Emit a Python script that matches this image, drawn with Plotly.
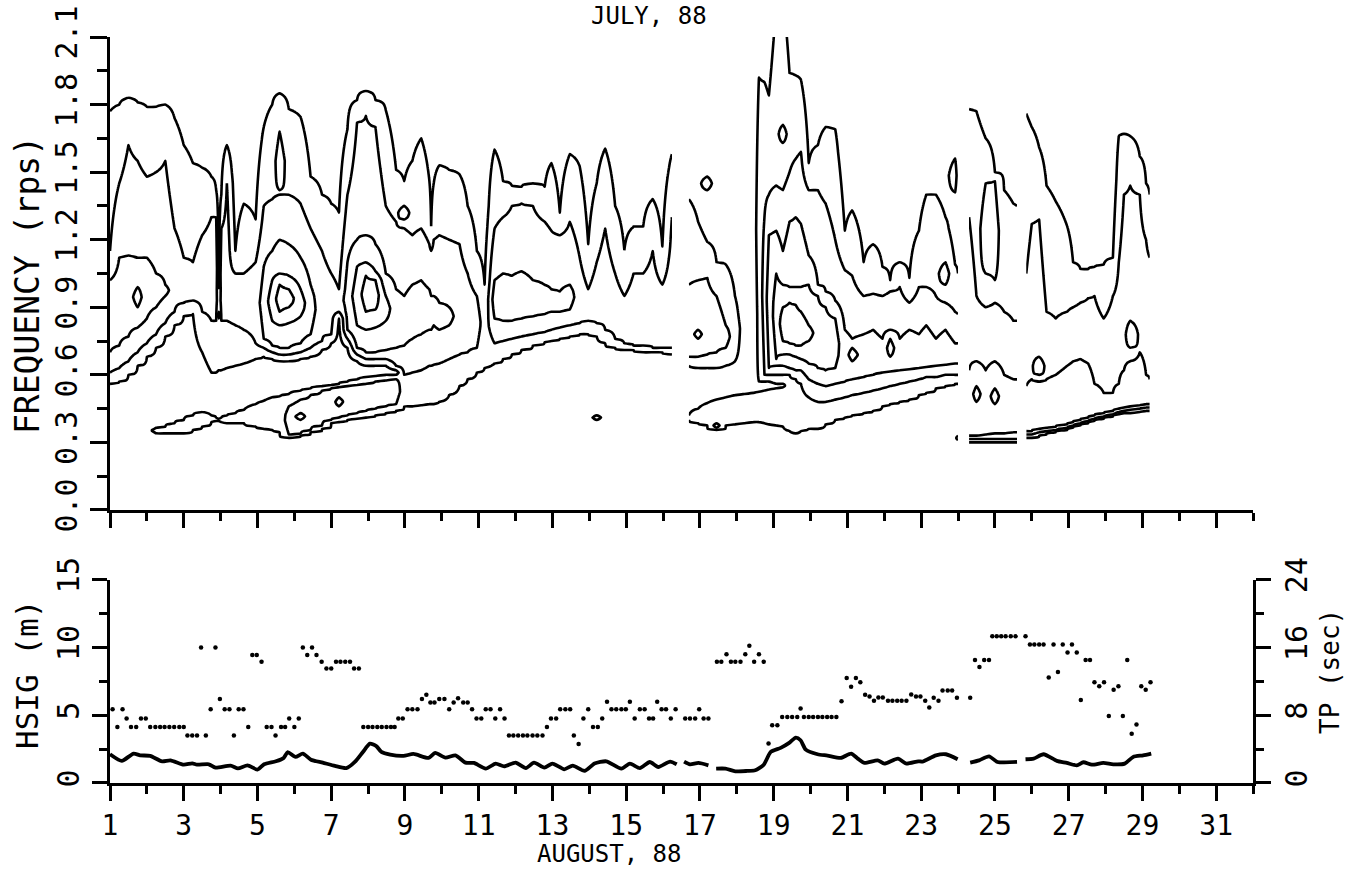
import numpy as np
import plotly.graph_objects as go

# ---------------- top panel: spectral contour bands (lo, hi frequency, rps) read per time ----------------
T_A = [1.0, 1.25, 1.5, 1.75, 2.0, 2.25, 2.5, 2.75, 3.0, 3.25, 3.5, 3.75, 3.88, 3.95, 4.02,
       4.17, 4.4, 4.63, 4.95, 5.17, 5.4, 5.6, 5.85, 6.17, 6.44, 6.75, 7.0, 7.21, 7.44, 7.7,
       7.94, 8.2, 8.48, 8.76, 8.98, 9.2, 9.44, 9.66, 9.71, 9.78, 9.93, 10.2, 10.48, 10.7, 10.95,
       11.16, 11.43, 11.66, 11.9, 12.16, 12.47, 12.79, 12.97, 13.2, 13.47, 13.74, 13.97, 14.2,
       14.43, 14.7, 14.95, 15.2, 15.46, 15.72, 15.98, 16.24]
L1_A = {1.0: (0.56, 1.77), 1.25: (0.57, 1.80), 1.5: (0.60, 1.83), 1.75: (0.64, 1.81), 2.0: (0.68, 1.79),
        2.25: (0.72, 1.79), 2.5: (0.77, 1.80), 2.75: (0.82, 1.74), 3.0: (0.86, 1.62), 3.25: (0.87, 1.54),
        3.5: (0.70, 1.52), 3.75: (0.61, 1.48), 3.88: (0.61, 1.42), 3.95: (0.62, 0.85), 4.02: (0.62, 1.40),
        4.17: (0.63, 1.62), 4.4: (0.64, 1.15), 4.63: (0.65, 1.36), 4.95: (0.67, 1.29), 5.17: (0.68, 1.70),
        5.4: (0.67, 1.80), 5.6: (0.66, 1.85), 5.85: (0.66, 1.78), 6.17: (0.67, 1.745), 6.44: (0.68, 1.48),
        6.75: (0.71, 1.40), 7.0: (0.74, 1.36), 7.21: (0.85, 1.32), 7.44: (0.72, 1.69), 7.7: (0.66, 1.82),
        7.94: (0.64, 1.86), 8.2: (0.64, 1.82), 8.48: (0.64, 1.775), 8.76: (0.62, 1.51), 8.98: (0.46, 1.46),
        9.2: (0.46, 1.55), 9.44: (0.465, 1.65), 9.66: (0.47, 1.465), 9.71: (0.47, 1.26), 9.78: (0.47, 1.45),
        9.93: (0.48, 1.53), 10.2: (0.51, 1.51), 10.48: (0.55, 1.49), 10.7: (0.58, 1.35), 10.95: (0.61, 1.15),
        11.16: (0.63, 1.00), 11.43: (0.65, 1.60), 11.66: (0.67, 1.46), 11.9: (0.69, 1.44), 12.16: (0.71, 1.435),
        12.47: (0.73, 1.45), 12.79: (0.745, 1.435), 12.97: (0.75, 1.54), 13.2: (0.76, 1.32), 13.47: (0.77, 1.58),
        13.74: (0.78, 1.525), 13.97: (0.78, 1.18), 14.2: (0.77, 1.45), 14.43: (0.74, 1.605), 14.7: (0.72, 1.35),
        14.95: (0.71, 1.154), 15.2: (0.71, 1.257), 15.46: (0.70, 1.257), 15.72: (0.70, 1.38), 15.98: (0.70, 1.17),
        16.24: (0.69, 1.58)}
L2_A = {1.0: (0.61, 1.15), 1.25: (0.63, 1.45), 1.5: (0.66, 1.62), 1.75: (0.70, 1.55), 2.0: (0.74, 1.48),
        2.25: (0.78, 1.50), 2.5: (0.83, 1.55), 2.75: (0.88, 1.25), 3.0: (0.92, 1.12), 3.25: (0.93, 1.10),
        3.5: (0.88, 1.22), 3.75: (0.84, 1.30), 3.88: (0.84, 1.30), 4.02: (0.84, 1.25), 4.17: (0.84, 1.45),
        4.4: (0.82, 1.05), 4.63: (0.80, 1.05), 4.95: (0.74, 1.10), 5.17: (0.72, 1.35), 5.4: (0.70, 1.38),
        5.6: (0.69, 1.40), 5.85: (0.69, 1.40), 6.17: (0.70, 1.36), 6.44: (0.72, 1.25), 6.75: (0.75, 1.15),
        7.0: (0.78, 1.05), 7.21: (0.88, 0.98), 7.44: (0.76, 1.40), 7.7: (0.69, 1.72), 7.94: (0.67, 1.75),
        8.2: (0.67, 1.70), 8.48: (0.67, 1.35), 8.76: (0.64, 1.28), 8.98: (0.60, 1.25), 9.2: (0.61, 1.22),
        9.44: (0.62, 1.25), 9.66: (0.64, 1.18), 9.71: (0.64, 1.15), 9.78: (0.645, 1.20), 9.93: (0.65, 1.22),
        10.2: (0.67, 1.20), 10.48: (0.69, 1.18), 10.7: (0.70, 1.05), 10.95: (0.72, 0.95), 11.43: (0.74, 1.25),
        11.66: (0.75, 1.30), 11.9: (0.76, 1.35), 12.16: (0.77, 1.36), 12.47: (0.78, 1.35), 12.79: (0.79, 1.28),
        12.97: (0.80, 1.24), 13.2: (0.81, 1.22), 13.47: (0.82, 1.28), 13.74: (0.83, 1.12), 13.97: (0.84, 0.98),
        14.2: (0.83, 1.10), 14.43: (0.80, 1.25), 14.7: (0.76, 1.05), 14.95: (0.74, 0.95), 15.2: (0.73, 1.05),
        15.46: (0.73, 1.05), 15.72: (0.72, 1.15), 15.98: (0.72, 1.00), 16.24: (0.72, 1.30)}
L3_A = {1.0: (0.70, 1.02), 1.25: (0.73, 1.12), 1.5: (0.77, 1.13), 1.75: (0.81, 1.12), 2.0: (0.85, 1.12),
        2.25: (0.90, 1.05), 2.5: (0.95, 1.00), 5.17: (0.76, 1.08), 5.4: (0.73, 1.15), 5.6: (0.72, 1.20),
        5.85: (0.72, 1.18), 6.17: (0.74, 1.12), 6.44: (0.78, 1.00), 7.44: (0.80, 1.10), 7.7: (0.72, 1.20),
        7.94: (0.70, 1.22), 8.2: (0.70, 1.18), 8.48: (0.71, 1.05), 8.76: (0.72, 0.98), 8.98: (0.73, 0.95),
        9.2: (0.76, 1.00), 9.44: (0.78, 1.02), 9.66: (0.80, 0.98), 9.71: (0.80, 0.95), 9.78: (0.82, 0.95),
        9.93: (0.80, 0.92), 10.2: (0.82, 0.90), 11.43: (0.85, 1.02), 11.66: (0.84, 1.05), 11.9: (0.84, 1.04),
        12.16: (0.85, 1.06), 12.47: (0.86, 1.02), 12.79: (0.87, 1.00), 12.97: (0.88, 0.98), 13.2: (0.88, 0.97),
        13.47: (0.89, 1.00)}
L4_A = {5.4: (0.84, 1.02), 5.6: (0.82, 1.05), 5.85: (0.83, 1.04), 6.17: (0.86, 0.98),
        7.7: (0.82, 1.08), 7.94: (0.80, 1.10), 8.2: (0.81, 1.06), 8.48: (0.84, 0.95)}
L5_A = {5.6: (0.88, 1.00), 5.85: (0.90, 0.98), 7.94: (0.88, 1.04), 8.2: (0.89, 1.02)}
S1_A = {2.25: (0.343, 0.362), 2.5: (0.34, 0.37), 2.75: (0.34, 0.385), 3.0: (0.34, 0.40), 3.25: (0.355, 0.42),
        3.5: (0.37, 0.435), 3.75: (0.39, 0.42), 3.88: (0.395, 0.41), 3.95: (0.395, 0.405), 4.02: (0.39, 0.41),
        4.17: (0.385, 0.42), 4.4: (0.385, 0.43), 4.63: (0.385, 0.445), 4.95: (0.37, 0.47), 5.17: (0.36, 0.485),
        5.4: (0.355, 0.50), 5.6: (0.345, 0.505), 5.85: (0.32, 0.515), 6.17: (0.33, 0.53), 6.44: (0.345, 0.54),
        6.75: (0.36, 0.55), 7.0: (0.385, 0.555), 7.21: (0.39, 0.56), 7.44: (0.40, 0.57), 7.7: (0.405, 0.58),
        7.94: (0.41, 0.59), 8.2: (0.42, 0.595), 8.48: (0.43, 0.60), 8.76: (0.44, 0.60)}
S2_A = {5.85: (0.335, 0.46), 6.17: (0.34, 0.49), 6.44: (0.355, 0.51), 6.75: (0.375, 0.53), 7.0: (0.40, 0.54),
        7.21: (0.41, 0.545), 7.44: (0.42, 0.55), 7.7: (0.43, 0.555), 7.94: (0.44, 0.56), 8.2: (0.45, 0.57),
        8.48: (0.46, 0.575), 8.76: (0.47, 0.58)}
X_A = {1.75: (0.90, 0.99), 3.95: (0.88, 0.98), 5.6: (1.42, 1.68), 6.17: (0.40, 0.43),
       7.21: (0.46, 0.50), 8.98: (1.29, 1.35), 14.2: (0.40, 0.42)}

T_B = [16.7, 16.95, 17.2, 17.45, 17.7, 17.95, 18.2, 18.45, 18.6, 18.75, 18.87, 19.07, 19.25, 19.43,
       19.6, 19.74, 19.95, 20.2, 20.41, 20.67, 20.93, 21.13, 21.44, 21.7, 21.95, 22.16, 22.42, 22.68,
       22.94, 23.14, 23.4, 23.66, 23.92, 24.0]
L1_B = {16.7: (0.64, 1.38), 16.95: (0.63, 1.28), 17.2: (0.63, 1.19), 17.45: (0.63, 1.10), 17.7: (0.64, 1.09),
        17.95: (0.66, 0.95), 18.6: (0.57, 1.92), 18.75: (0.57, 1.90), 18.87: (0.57, 1.84), 19.07: (0.56, 2.25),
        19.25: (0.56, 2.30), 19.43: (0.35, 1.94), 19.6: (0.34, 1.93), 19.74: (0.35, 1.91), 19.95: (0.36, 1.54),
        20.2: (0.36, 1.62), 20.41: (0.38, 1.70), 20.67: (0.40, 1.69), 20.93: (0.41, 1.24), 21.13: (0.42, 1.33),
        21.44: (0.43, 1.10), 21.7: (0.44, 1.18), 21.95: (0.46, 1.08), 22.16: (0.47, 1.02), 22.42: (0.48, 1.10),
        22.68: (0.49, 1.03), 22.94: (0.51, 1.24), 23.14: (0.52, 1.40), 23.4: (0.54, 1.40), 23.66: (0.55, 1.30),
        23.92: (0.56, 1.09), 24.0: (0.56, 1.05)}
L2_B = {16.7: (0.68, 1.00), 16.95: (0.68, 1.02), 17.2: (0.69, 1.03), 17.45: (0.70, 0.95), 17.7: (0.72, 0.82),
        18.75: (0.60, 1.30), 18.87: (0.60, 1.40), 19.07: (0.60, 1.44), 19.25: (0.60, 1.42), 19.43: (0.60, 1.50),
        19.6: (0.58, 1.56), 19.74: (0.56, 1.59), 19.95: (0.50, 1.42), 20.2: (0.48, 1.42), 20.41: (0.48, 1.36),
        20.67: (0.49, 1.20), 20.93: (0.50, 1.065), 21.13: (0.51, 1.04), 21.44: (0.52, 0.95), 21.7: (0.53, 0.96),
        21.95: (0.54, 0.95), 22.16: (0.55, 0.97), 22.42: (0.56, 0.99), 22.68: (0.57, 0.92), 22.94: (0.58, 0.99),
        23.14: (0.59, 0.99), 23.4: (0.59, 0.95), 23.66: (0.60, 0.92), 23.92: (0.60, 0.88), 24.0: (0.60, 0.87)}
L3_B = {18.87: (0.63, 1.22), 19.07: (0.64, 1.24), 19.25: (0.64, 1.15), 19.43: (0.63, 1.28), 19.6: (0.62, 1.30),
        19.74: (0.62, 1.27), 19.95: (0.58, 1.13), 20.2: (0.56, 1.00), 20.41: (0.55, 0.97), 20.67: (0.56, 0.93),
        20.93: (0.57, 0.80), 21.13: (0.58, 0.76), 21.44: (0.59, 0.78), 21.7: (0.60, 0.80), 21.95: (0.61, 0.76),
        22.16: (0.615, 0.80), 22.42: (0.62, 0.76), 22.68: (0.625, 0.80), 22.94: (0.63, 0.78), 23.14: (0.635, 0.82),
        23.4: (0.64, 0.76), 23.66: (0.645, 0.80), 23.92: (0.65, 0.74), 24.0: (0.65, 0.74)}
L4_B = {19.07: (0.67, 1.05), 19.25: (0.69, 1.00), 19.43: (0.69, 0.99), 19.6: (0.68, 0.99), 19.74: (0.67, 0.99),
        19.95: (0.65, 1.00), 20.2: (0.63, 0.95), 20.41: (0.62, 0.90), 20.67: (0.63, 0.85)}
L5_B = {19.25: (0.75, 0.90), 19.43: (0.74, 0.92), 19.6: (0.73, 0.91), 19.74: (0.73, 0.88), 19.95: (0.75, 0.82)}
S1_B = {16.7: (0.40, 0.42), 16.95: (0.385, 0.45), 17.2: (0.375, 0.475), 17.45: (0.355, 0.49), 17.7: (0.375, 0.50),
        17.95: (0.38, 0.51), 18.2: (0.385, 0.515), 18.45: (0.39, 0.52), 18.6: (0.39, 0.525), 18.75: (0.385, 0.53),
        18.87: (0.38, 0.535), 19.07: (0.375, 0.54), 19.25: (0.37, 0.545)}
X_B = {16.95: (0.76, 0.80), 17.2: (1.42, 1.48), 17.45: (0.365, 0.385), 19.25: (1.63, 1.71),
       21.13: (0.66, 0.72), 22.16: (0.68, 0.76), 23.66: (1.00, 1.10), 23.92: (1.41, 1.56), 24.0: (0.31, 0.33)}

T_C = [24.3, 24.5, 24.75, 25.0, 25.25, 25.5, 25.6]
L1_C = {24.3: (0.30, 1.78), 24.5: (0.30, 1.77), 24.75: (0.30, 1.65), 25.0: (0.30, 1.50), 25.25: (0.30, 1.42),
        25.5: (0.30, 1.36), 25.6: (0.30, 1.35)}
L2_C = {24.3: (0.315, 1.30), 24.5: (0.315, 0.95), 24.75: (0.315, 0.90), 25.0: (0.315, 0.92), 25.25: (0.315, 0.88),
        25.5: (0.315, 0.84), 25.6: (0.315, 0.84)}
L3_C = {24.3: (0.33, 0.62), 24.5: (0.33, 0.66), 24.75: (0.335, 0.62), 25.0: (0.34, 0.66), 25.25: (0.34, 0.60),
        25.5: (0.345, 0.58), 25.6: (0.345, 0.58)}
L4_C = {24.5: (0.48, 0.55), 25.0: (0.47, 0.54)}
X_C = {24.75: (1.05, 1.45), 25.0: (1.02, 1.46)}

T_D = [25.85, 26.0, 26.2, 26.4, 26.65, 26.96, 27.12, 27.32, 27.53, 27.7, 27.95, 28.2, 28.36, 28.5,
       28.67, 28.93, 29.1, 29.2]
L1_D = {25.85: (0.32, 1.76), 26.0: (0.32, 1.70), 26.2: (0.33, 1.61), 26.4: (0.34, 1.44), 26.65: (0.35, 1.37),
        26.96: (0.36, 1.26), 27.12: (0.37, 1.10), 27.32: (0.38, 1.07), 27.53: (0.39, 1.07), 27.7: (0.40, 1.08),
        27.95: (0.41, 1.09), 28.2: (0.42, 1.12), 28.36: (0.425, 1.66), 28.5: (0.43, 1.67), 28.67: (0.43, 1.66),
        28.93: (0.435, 1.57), 29.1: (0.44, 1.45), 29.2: (0.44, 1.40)}
L2_D = {25.85: (0.335, 1.05), 26.0: (0.335, 1.27), 26.2: (0.345, 1.29), 26.4: (0.35, 0.88), 26.65: (0.355, 0.85),
        26.96: (0.365, 0.88), 27.12: (0.375, 0.90), 27.32: (0.385, 0.92), 27.53: (0.395, 0.94), 27.7: (0.405, 0.95),
        27.95: (0.415, 0.85), 28.2: (0.425, 0.95), 28.36: (0.435, 1.10), 28.5: (0.44, 1.40), 28.67: (0.445, 1.44),
        28.93: (0.45, 1.40), 29.1: (0.455, 1.20), 29.2: (0.455, 1.12)}
L3_D = {25.85: (0.35, 0.55), 26.0: (0.35, 0.58), 26.2: (0.36, 0.57), 26.4: (0.365, 0.58), 26.65: (0.37, 0.60),
        26.96: (0.38, 0.64), 27.12: (0.39, 0.66), 27.32: (0.40, 0.67), 27.53: (0.41, 0.65), 27.7: (0.42, 0.56),
        27.95: (0.43, 0.52), 28.2: (0.44, 0.52), 28.36: (0.45, 0.56), 28.5: (0.455, 0.62), 28.67: (0.46, 0.66),
        28.93: (0.465, 0.70), 29.1: (0.47, 0.60), 29.2: (0.47, 0.58)}
X_D = {26.2: (0.60, 0.68), 28.67: (0.72, 0.84)}

# ---------------- bottom panel ----------------
HSIG_DAY = [1.0, 1.32, 1.64, 1.82, 2.09, 2.41, 2.64, 3.0, 3.23, 3.36, 3.68, 3.86, 4.27, 4.47, 4.73, 5.0,
            5.18, 5.5, 5.71, 5.82, 6.03, 6.23, 6.45, 6.77, 7.1, 7.41, 7.64, 7.86, 8.05, 8.23, 8.36, 8.6,
            8.96, 9.23, 9.64, 9.82, 10.1, 10.37, 10.64, 10.87, 11.19, 11.46, 11.69, 12.0, 12.28, 12.5,
            12.78, 13.0, 13.32, 13.55, 13.87, 14.14, 14.46, 14.87, 15.1, 15.37, 15.64, 15.87, 16.19, 16.37,
            None,
            16.57, 16.73, 16.96, 17.23,
            None,
            17.44, 17.69, 17.96, 18.28, 18.5, 18.73, 18.92, 19.19, 19.42, 19.6, 19.73, 19.87, 20.19, 20.46,
            20.82, 21.1, 21.28, 21.46, 21.82, 22.0, 22.37, 22.6, 22.92, 23.04, 23.4, 23.67, 23.99,
            None,
            24.33, 24.57, 24.84, 25.07, 25.6,
            None,
            25.83, 26.05, 26.32, 26.68, 26.95, 27.22, 27.4, 27.63, 27.94, 28.21, 28.52, 28.75, 29.02, 29.24]
HSIG_M = [2.12, 1.63, 2.17, 2.04, 2.0, 1.6, 1.67, 1.35, 1.45, 1.35, 1.38, 1.13, 1.28, 1.08, 1.3, 0.99,
          1.38, 1.6, 1.85, 2.27, 1.92, 2.17, 1.72, 1.5, 1.26, 1.1, 1.55, 2.29, 2.9, 2.7, 2.29, 2.09,
          2.0, 2.14, 1.85, 2.22, 1.87, 2.04, 1.5, 1.48, 1.06, 1.43, 1.23, 1.5, 1.1, 1.5,
          1.13, 1.43, 1.01, 1.28, 0.89, 1.43, 1.6, 1.06, 1.43, 1.1, 1.55, 1.18, 1.58, 1.38,
          None,
          1.58, 1.38, 1.48, 1.3,
          None,
          1.06, 1.06, 0.86, 0.89, 0.94, 1.35, 2.29, 2.59, 2.96, 3.35, 3.15, 2.46, 2.12, 2.02,
          1.85, 2.17, 1.8, 1.48, 1.67, 1.43, 1.8, 1.43, 1.6, 1.58, 2.04, 2.12, 1.75,
          None,
          1.5, 1.67, 1.97, 1.55, 1.55,
          None,
          1.75, 1.8, 2.12, 1.63, 1.48, 1.3, 1.53, 1.35, 1.48, 1.38, 1.43, 1.92, 2.04, 2.17]

TP_DAY = [1.07, 1.2, 1.34, 1.45, 1.57, 1.71, 1.84, 1.97, 2.09, 2.23, 2.36, 2.48, 2.61, 2.74, 2.88, 3.0,
          3.1, 3.23, 3.36, 3.47, 3.6, 3.73, 3.86, 3.98, 4.11, 4.24, 4.36, 4.49, 4.62, 4.75, 4.86, 4.98,
          5.11, 5.25, 5.38, 5.49, 5.64, 5.75, 5.86, 6.0, 6.12, 6.23, 6.35, 6.48, 6.6, 6.74, 6.87, 7.0,
          7.13, 7.25, 7.38, 7.51, 7.62, 7.75, 7.87, 8.0, 8.12, 8.25, 8.37, 8.5, 8.62, 8.72, 8.82, 8.94,
          9.07, 9.2, 9.34, 9.46, 9.58, 9.69, 9.8, 9.93, 10.07, 10.2, 10.32, 10.44, 10.58, 10.7, 10.82,
          10.94, 11.07, 11.19, 11.32, 11.45, 11.58, 11.7, 11.82, 11.94, 12.07, 12.2, 12.32, 12.46, 12.59,
          12.73, 12.85, 12.96, 13.1, 13.21, 13.35, 13.48, 13.58, 13.71, 13.84, 13.97, 14.1, 14.23, 14.35,
          14.48, 14.6, 14.73, 14.87, 14.99, 15.1, 15.23, 15.37, 15.5, 15.62, 15.73, 15.84, 15.96, 16.08,
          16.21, 16.34, 16.6, 16.73, 16.87, 16.98, 17.1, 17.23, 17.46, 17.58, 17.72, 17.84, 17.96, 18.1,
          18.23, 18.34, 18.47, 18.6, 18.73, 18.86, 18.96, 19.1, 19.23, 19.37, 19.5, 19.64, 19.73, 19.82,
          19.95, 20.07, 20.2, 20.32, 20.45, 20.57, 20.7, 20.84, 20.98, 21.1, 21.23, 21.35, 21.48, 21.6,
          21.72, 21.84, 21.96, 22.1, 22.22, 22.35, 22.47, 22.6, 22.73, 22.86, 22.98, 23.11, 23.22, 23.34,
          23.47, 23.58, 23.72, 23.84, 23.97, 24.33, 24.46, 24.58, 24.71, 24.84, 24.93, 25.05, 25.17, 25.29,
          25.43, 25.56, 25.83, 25.95, 26.07, 26.2, 26.32, 26.46, 26.59, 26.71, 26.84, 26.97, 27.09, 27.22,
          27.33, 27.46, 27.58, 27.7, 27.83, 27.96, 28.09, 28.22, 28.35, 28.47, 28.59, 28.71, 28.84, 28.97,
          29.09, 29.22]
TP_SEC = [8.7, 6.6, 8.7, 7.6, 6.6, 6.6, 7.6, 7.6, 6.6, 6.6, 6.6, 6.6, 6.6, 6.6, 6.6, 6.6,
          5.6, 5.6, 5.6, 16.0, 5.6, 8.7, 16.0, 9.9, 8.7, 8.7, 5.6, 8.7, 8.7, 6.6, 15.1, 15.1,
          14.3, 6.6, 6.6, 5.6, 6.6, 6.6, 7.6, 6.6, 7.6, 16.0, 15.1, 16.0, 15.1, 14.3, 13.5, 13.5,
          14.3, 14.3, 14.3, 14.3, 13.5, 13.5, 6.6, 6.6, 6.6, 6.6, 6.6, 6.6, 6.6, 6.6, 7.6, 7.6,
          8.7, 8.7, 8.7, 9.9, 10.4, 9.5, 9.5, 9.9, 9.9, 8.7, 9.5, 10.0, 9.5, 9.5, 8.7,
          7.6, 7.6, 8.7, 8.7, 7.6, 8.7, 7.6, 5.6, 5.6, 5.6, 5.6, 5.6, 5.6, 5.6,
          5.6, 6.6, 7.6, 7.6, 8.7, 8.7, 8.7, 5.6, 4.6, 7.6, 8.7, 6.6, 6.6, 7.6,
          9.6, 8.7, 8.7, 8.7, 8.7, 9.6, 7.6, 8.7, 8.7, 7.6, 7.6, 9.6, 8.7, 8.7,
          7.6, 8.7, 7.6, 7.6, 7.6, 8.7, 7.6, 7.6, 14.3, 14.3, 15.2, 14.3, 14.3, 14.3,
          15.2, 16.2, 14.3, 15.2, 14.3, 4.65, 6.8, 6.8, 7.8, 7.8, 7.8, 7.8, 8.8, 7.8,
          7.8, 7.8, 7.8, 7.8, 7.8, 7.8, 7.8, 9.65, 12.4, 11.35, 12.4, 11.9, 10.4, 10.2,
          9.7, 10.1, 10.1, 9.7, 9.7, 9.7, 9.7, 9.7, 10.45, 10.2, 10.2, 9.7, 8.9, 10.05,
          9.7, 10.9, 10.9, 10.9, 10.05, 10.05, 14.5, 13.7, 14.5, 14.5, 17.3, 17.3, 17.3, 17.3,
          17.3, 17.3, 17.3, 16.35, 16.35, 16.35, 16.35, 12.45, 16.35, 13.1, 16.35, 15.4, 16.35, 15.4,
          9.8, 14.5, 14.5, 11.9, 11.4, 11.9, 7.9, 11.0, 11.4, 7.9, 14.5, 5.8, 6.9, 11.4,
          11.0, 11.9]

DAY_MAJOR = list(range(1, 32, 2))
DAY_MINOR = list(range(2, 33, 2))
FREQ_TICKS = [0.0, 0.3, 0.6, 0.9, 1.2, 1.5, 1.8, 2.1]
FREQ_MINOR = [0.15, 0.45, 0.75, 1.05, 1.35, 1.65, 1.95]
HSIG_TICKS = [0, 5, 10, 15]
HSIG_MINOR = [2.5, 7.5, 12.5]
TP_TICKS = [0, 8, 16, 24]
TP_MINOR = [4, 12, 20]

# ---------------- build contour fields from the band tables ----------------
F = np.arange(0.0, 2.40001, 0.005)
OUTER = 0.35


def column_profile(pairs):
    """Piecewise-linear level-count profile that crosses k-0.5 exactly at each band edge."""
    if not pairs:
        return np.zeros_like(F)
    bounds = sorted({v for p in pairs for v in p})

    def count(f):
        return sum(1 for lo, hi in pairs if lo < f < hi)

    kf, kz = [bounds[0] - OUTER], [0.0]
    for i, b in enumerate(bounds):
        kf.append(b)
        kz.append(0.5 * (count(b - 1e-7) + count(b + 1e-7)))
        if i + 1 < len(bounds):
            m = 0.5 * (b + bounds[i + 1])
            kf.append(m)
            kz.append(float(count(m)))
    kf.append(bounds[-1] + OUTER)
    kz.append(0.0)
    return np.interp(F, kf, kz)


def band_field(times, bands):
    z = np.zeros((len(F), len(times)))
    for j, t in enumerate(times):
        z[:, j] = column_profile([b[t] for b in bands if t in b])
    return z


SEGMENTS = [
    (T_A, [L1_A, L2_A, L3_A, L4_A, L5_A, S1_A, S2_A, X_A]),
    (T_B, [L1_B, L2_B, L3_B, L4_B, L5_B, S1_B, X_B]),
    (T_C, [L1_C, L2_C, L3_C, L4_C, X_C]),
    (T_D, [L1_D, L2_D, L3_D, X_D]),
]

fig = go.Figure()
for times, bands in SEGMENTS:
    fig.add_trace(go.Contour(
        x=times, y=F, z=band_field(times, bands),
        autocontour=False,
        contours=dict(start=0.5, end=4.5, size=1, coloring="lines", showlabels=False),
        colorscale=[[0, "black"], [1, "black"]],
        line=dict(width=2.6, smoothing=0.3),
        showscale=False, hoverinfo="skip",
        xaxis="x", yaxis="y",
    ))

fig.add_trace(go.Scatter(x=HSIG_DAY, y=HSIG_M, mode="lines", connectgaps=False,
                         line=dict(color="black", width=3.8, shape="spline", smoothing=0.6),
                         xaxis="x2", yaxis="y2", hoverinfo="skip"))
fig.add_trace(go.Scatter(x=TP_DAY, y=TP_SEC, mode="markers",
                         marker=dict(color="black", size=4.5, symbol="circle"),
                         xaxis="x2", yaxis="y3", hoverinfo="skip"))

FONT = "DejaVu Sans Mono"
axis_common = dict(showline=True, linewidth=3, linecolor="black", showgrid=False, zeroline=False,
                   ticks="outside", tickwidth=3, tickcolor="black", mirror=False, automargin=False)


def minor(vals, length):
    return dict(tickmode="array", tickvals=vals, ticklen=length, tickwidth=3, tickcolor="black", ticks="outside")


# plot area: x 110..1253 px, y 37..783 px
PX_W = 1348 - 110 - 95
PX_H = 874 - 37 - 91


def paper_x(px):
    return (px - 110) / PX_W


def paper_y(py):
    return (874 - 91 - py) / PX_H


fig.update_layout(
    width=1348, height=874,
    margin=dict(l=110, r=95, t=37, b=91),
    paper_bgcolor="white", plot_bgcolor="white",
    showlegend=False,
    font=dict(family=FONT, size=30, color="black"),
    xaxis=dict(domain=[0, 1], anchor="y", range=[1, 32], tickmode="array", tickvals=DAY_MAJOR,
               showticklabels=False, ticklen=15, minor=minor(DAY_MINOR, 8), **axis_common),
    yaxis=dict(domain=[0.366, 1], anchor="x", range=[0, 2.1], tickmode="array", tickvals=FREQ_TICKS,
               ticktext=["%.1f" % v for v in FREQ_TICKS], tickangle=-90, ticklen=17,
               ticklabelstandoff=1, minor=minor(FREQ_MINOR, 10), **axis_common),
    xaxis2=dict(domain=[0, 1], anchor="y2", range=[1, 32], tickmode="array", tickvals=DAY_MAJOR,
                tickfont=dict(family=FONT, size=28),
                ticklen=15, minor=minor(DAY_MINOR, 8), **axis_common),
    yaxis2=dict(domain=[0, 0.2727], anchor="x2", range=[0, 15], tickmode="array", tickvals=HSIG_TICKS,
                tickangle=-90, ticklen=15, ticklabelstandoff=1, minor=minor(HSIG_MINOR, 8),
                **axis_common),
    yaxis3=dict(overlaying="y2", anchor="x2", side="right", range=[0, 24], tickmode="array",
                tickvals=TP_TICKS, tickangle=-90, ticklen=15, ticklabelstandoff=0, minor=minor(TP_MINOR, 8),
                **axis_common),
    annotations=[
        dict(text="JULY, 88", x=0.472, y=1.028, xref="paper", yref="paper", showarrow=False,
             font=dict(family=FONT, size=24), xanchor="center", yanchor="middle"),
        dict(text="AUGUST, 88", x=14.55, y=-0.095, xref="x2", yref="paper", showarrow=False,
             font=dict(family=FONT, size=24), xanchor="center", yanchor="middle"),
        dict(text="FREQUENCY (rps)", x=paper_x(27), y=paper_y(285), xref="paper", yref="paper",
             showarrow=False, textangle=-90, font=dict(family=FONT, size=33),
             xanchor="center", yanchor="middle"),
        dict(text="HSIG (m)", x=paper_x(27), y=paper_y(675), xref="paper", yref="paper",
             showarrow=False, textangle=-90, font=dict(family=FONT, size=31),
             xanchor="center", yanchor="middle"),
        dict(text="TP (sec)", x=paper_x(1330), y=paper_y(672), xref="paper", yref="paper",
             showarrow=False, textangle=-90, font=dict(family=FONT, size=26),
             xanchor="center", yanchor="middle"),
    ],
)

fig.write_html("out.html")
